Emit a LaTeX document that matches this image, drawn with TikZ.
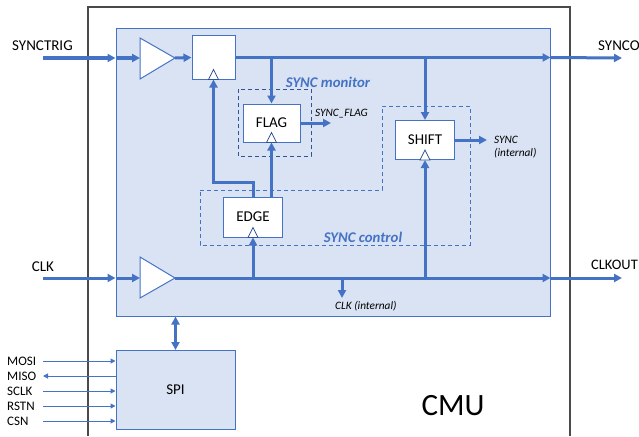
\documentclass[tikz,border=0pt]{standalone}
\usepackage{fontspec}
\setmainfont{Carlito}
\usetikzlibrary{arrows.meta}
\definecolor{cblue}{HTML}{4472C4}
\definecolor{cfill}{HTML}{DAE3F3}
\definecolor{cdark}{HTML}{2F5597}
\definecolor{cgray}{HTML}{4A4A4A}
\begin{document}
\begin{tikzpicture}[x=1pt,y=-1pt,
  sig/.style={cblue, line width=3pt, -{Triangle[length=8pt,width=8pt]}},
  bisig/.style={cblue, line width=3pt, {Triangle[length=8pt,width=8pt]}-{Triangle[length=8pt,width=8pt]}},
  wire/.style={cblue, line width=1pt, -{Triangle[length=5pt,width=5pt]}},
  blk/.style={draw=cblue, line width=1pt, fill=white, inner sep=0pt, font=\fontsize{15}{17}\selectfont},
  region/.style={draw=cblue, line width=1pt, fill=cfill, inner sep=0pt},
  buf/.style={draw=cblue, line width=1pt, fill=white, line join=miter},
  clkmark/.style={draw=cdark, line width=0.8pt, fill=white},
  lbl/.style={font=\fontsize{15}{17}\selectfont, inner sep=0pt},
  spilbl/.style={font=\fontsize{13}{15}\selectfont, inner sep=0pt, anchor=west},
  small/.style={font=\itshape\fontsize{11.3}{13}\selectfont, inner sep=0pt},
  grp/.style={font=\bfseries\itshape\fontsize{14.8}{16}\selectfont, text=cblue, inner sep=0pt},
]
\useasboundingbox (0,0) rectangle (639,436);

% CMU outline
\draw[cgray, line width=1.5pt] (88,436) -- (88,7) -- (570,7) -- (570,436);
\node[font=\fontsize{31}{34}\selectfont, inner sep=0pt] (cmu) at (453,406) {CMU};

% core region
\node[region, minimum width=434pt, minimum height=287pt] (core) at (333,172.5) {};

% dashed groups
\draw[cdark, line width=1pt, dash pattern=on 4pt off 3pt] (238,89) rectangle (311,156);
\draw[cblue, line width=1pt, dash pattern=on 4pt off 3pt] (200,190) -- (382,190) -- (382,106) -- (470,106) -- (470,245) -- (200,245) -- cycle;
\node[grp] (lmon) at (328,82) {SYNC monitor};
\node[grp] (lctl) at (363,237) {SYNC control};

% buffers
\draw[buf] (140,38) -- (175,58) -- (140,79) -- cycle;
\coordinate (bufS-w) at (140,58);
\coordinate (bufS-e) at (175,58);
\draw[buf] (140,257) -- (175,278) -- (140,298) -- cycle;
\coordinate (bufC-w) at (140,278);
\coordinate (bufC-e) at (175,278);

% blocks
\node[blk, minimum width=43pt, minimum height=43pt] (ff) at (213.5,57.5) {};
\node[blk, minimum width=57pt, minimum height=38pt] (flag) at (271.5,123) {FLAG};
\node[blk, minimum width=59pt, minimum height=39pt] (shift) at (425,140) {SHIFT};
\node[blk, minimum width=59pt, minimum height=40pt] (edge) at (253,217) {EDGE};
\node[blk, fill=cfill, minimum width=119pt, minimum height=79pt] (spi) at (175.5,390) {SPI};

% clock markers
\foreach \b in {ff,flag,shift,edge}{
  \draw[clkmark] ([xshift=-5pt]\b.south) -- ([yshift=10pt]\b.south) -- ([xshift=5pt]\b.south) -- cycle;
}

% SYNCTRIG path
\node[lbl] (lsynctrig) at (42.5,46) {SYNCTRIG};
\coordinate (st-in) at (43,58);
\draw[sig] (st-in) -- (core.west |- st-in);
\draw[sig] (core.west |- st-in) -- (bufS-w);
\draw[sig] (bufS-e) -- (ff.west);
\draw[sig] (ff.east) -- (core.east |- ff.east);
\coordinate (so-end) at (622,58);
\draw[sig] (core.east |- ff.east) -- (so-end);
\node[lbl, anchor=west] (lsynco) at (598,46) {SYNCO};
\draw[sig] (flag.north |- ff.east) -- (flag.north);
\draw[sig] (shift.north |- ff.east) -- (shift.north);

% outputs
\coordinate (sf-end) at (331,123);
\draw[sig] (flag.east) -- (sf-end);
\node[small, anchor=west] (lsf) at (315,114) {SYNC\_FLAG};
\coordinate (si-end) at (487,140);
\draw[sig] (shift.east) -- (si-end);
\node[small, anchor=west, align=left] (lsi) at (494,147) {SYNC\\(internal)};

% EDGE outputs
\coordinate (jy) at (0,182);
\draw[sig] (edge.north) -- (edge.north |- jy) -- (ff.south |- jy) -- (ff.south);
\draw[sig] (flag.south |- edge.north) -- (flag.south);

% CLK path
\node[lbl] (lclk) at (43,267) {CLK};
\coordinate (ck-in) at (43,278);
\draw[sig] (ck-in) -- (core.west |- ck-in);
\draw[sig] (core.west |- ck-in) -- (bufC-w);
\draw[sig] (bufC-e) -- (core.east |- bufC-e);
\coordinate (co-end) at (622,278);
\draw[sig] (core.east |- bufC-e) -- (co-end);
\node[lbl, anchor=east, font=\fontsize{14.5}{16}\selectfont] (lclkout) at (638,265) {CLKOUT};
\draw[sig] (edge.south |- bufC-e) -- (edge.south);
\draw[sig] (shift.south |- bufC-e) -- (shift.south);
\coordinate (ci-end) at (342,298);
\draw[sig] (ci-end |- bufC-e) -- (ci-end);
\node[small, anchor=west] (lci) at (335,306) {CLK (internal)};

% core <-> SPI
\draw[bisig] (spi.north |- core.south) -- (spi.north);

% SPI signals
\foreach \n/\y in {MOSI/361, MISO/376, SCLK/391, RSTN/406, CSN/421}{
  \node[spilbl] (l\n) at (7,\y) {\n};
  \coordinate (w\n) at (43,\y);
}
\draw[wire] (wMOSI) -- (spi.west |- wMOSI);
\draw[wire] (spi.west |- wMISO) -- (wMISO);
\draw[wire] (wSCLK) -- (spi.west |- wSCLK);
\draw[wire] (wRSTN) -- (spi.west |- wRSTN);
\draw[wire] (wCSN) -- (spi.west |- wCSN);
\end{tikzpicture}
\end{document}
